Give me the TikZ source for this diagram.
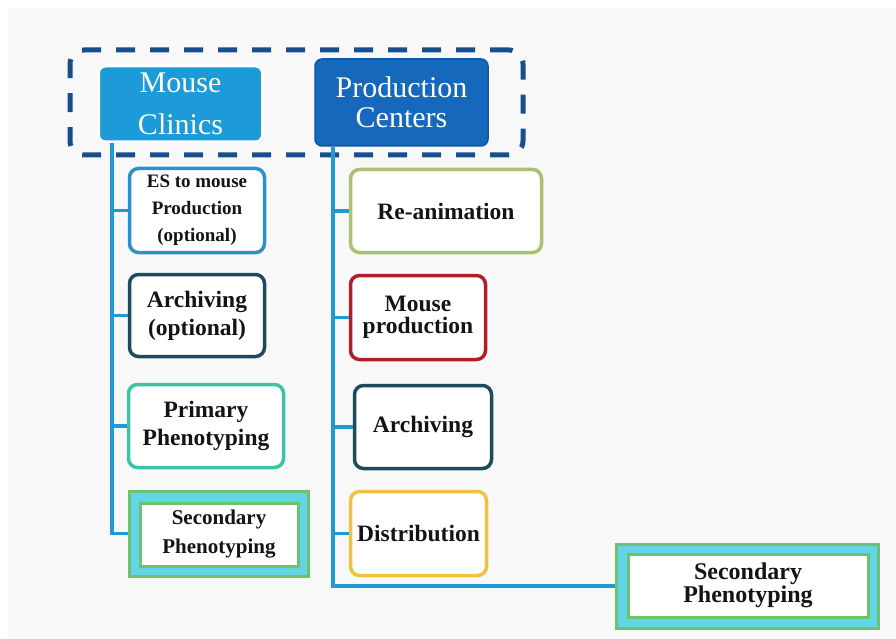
\documentclass[tikz,border=0pt]{standalone}
\usepackage{fontspec}
\setmainfont{Liberation Serif}
\usetikzlibrary{shadows}
\definecolor{bg}{HTML}{F8F8F8}
\definecolor{conn}{HTML}{1F9AD6}
\definecolor{navy}{HTML}{174E8E}
\definecolor{mcfill}{HTML}{1C9BD8}
\definecolor{pcfill}{HTML}{1568BC}
\definecolor{pcedge}{HTML}{0F56A0}
\definecolor{esedge}{HTML}{2E90CA}
\definecolor{tealdark}{HTML}{1E4B5C}
\definecolor{primedge}{HTML}{3FC2A2}
\definecolor{secgreen}{HTML}{6DC271}
\definecolor{seccyan}{HTML}{62D6E6}
\definecolor{olive}{HTML}{A9C170}
\definecolor{darkred}{HTML}{B01F25}
\definecolor{gold}{HTML}{F1C33C}
\definecolor{txt}{HTML}{141414}
\begin{document}
\begin{tikzpicture}[x=1pt,y=-1pt,
  titlebox/.style={rectangle, rounded corners=7pt, text=white, align=center, inner sep=0pt},
  taskbox/.style={rectangle, rounded corners=9pt, draw=#1, line width=3.5pt, fill=white, align=center, inner sep=0pt, text=txt, font=\bfseries\fontsize{23.5}{28}\selectfont},
  secouter/.style={rectangle, draw=secgreen, line width=3pt, fill=seccyan, inner sep=0pt},
  secinner/.style={rectangle, draw=secgreen, line width=3pt, fill=white, align=center, inner sep=0pt, text=txt},
  link/.style={draw=conn, line width=3.5pt},
  grpbox/.style={draw=navy, line width=5pt, dash pattern=on 19pt off 15pt, rounded corners=14pt, inner sep=0pt}
  ]
\useasboundingbox (0,0) rectangle (896,639);
\fill[white] (0,0) rectangle (896,639);
\fill[bg] (8,8) rectangle (896,639);

% dashed group
\node[grpbox, minimum width=453, minimum height=105] (grp) at (296.5,102.5) {};

% title boxes
\node[titlebox, fill=mcfill, draw=white, line width=3pt, minimum width=164, minimum height=76,
      drop shadow={opacity=0.25, shadow xshift=1.5pt, shadow yshift=-1.5pt},
      font=\fontsize{30}{42}\selectfont] (mc) at (180.5,104) {Mouse\\Clinics};
\node[titlebox, fill=pcfill, draw=pcedge, line width=1.5pt, minimum width=173, minimum height=87,
      font=\fontsize{30}{30}\selectfont] (pc) at (401.5,102.5) {Production\\Centers};

% left column
\node[taskbox=esedge, minimum width=135, minimum height=84,
      font=\bfseries\fontsize{19}{27}\selectfont] (es) at (197,210.5) {ES to mouse\\Production\\(optional)};
\node[taskbox=tealdark, minimum width=135, minimum height=82] (arc1) at (197,315.5) {Archiving\\(optional)};
\node[taskbox=primedge, minimum width=155, minimum height=83] (prim) at (206,426) {Primary\\Phenotyping};
\node[secouter, minimum width=179, minimum height=85] (sec1) at (218.5,533.5) {};
\node[secinner, minimum width=158, minimum height=63,
      font=\bfseries\fontsize{21}{29}\selectfont] (sec1in) at (219,534.5) {Secondary\\Phenotyping};

% right column
\node[taskbox=olive, minimum width=191, minimum height=83] (rean) at (446,211) {Re-animation};
\node[taskbox=darkred, minimum width=135, minimum height=84,
      font=\bfseries\fontsize{23.5}{22}\selectfont] (mp) at (418,317.5) {Mouse\\production};
\node[taskbox=tealdark, minimum width=137, minimum height=83] (arc2) at (423,427) {Archiving};
\node[taskbox=gold, minimum width=136, minimum height=84] (dist) at (418.5,533.5) {Distribution};
\node[secouter, minimum width=262, minimum height=84] (sec2) at (747,586) {};
\node[secinner, minimum width=240, minimum height=63,
      font=\bfseries\fontsize{24}{23}\selectfont] (sec2in) at (748,585.5) {Secondary\\Phenotyping};

% connectors
\coordinate (ls) at (112,143);
\coordinate (rs) at (333,147);
\draw[link] (ls) |- (sec1.west);
\draw[link] (es.west) -- (es.west -| ls);
\draw[link] (arc1.west) -- (arc1.west -| ls);
\draw[link] (prim.west) -- (prim.west -| ls);
\draw[link] (rs) |- (sec2.west);
\draw[link] (rean.west) -- (rean.west -| rs);
\draw[link] (mp.west) -- (mp.west -| rs);
\draw[link] (arc2.west) -- (arc2.west -| rs);
\draw[link] (dist.west) -- (dist.west -| rs);
\end{tikzpicture}
\end{document}
